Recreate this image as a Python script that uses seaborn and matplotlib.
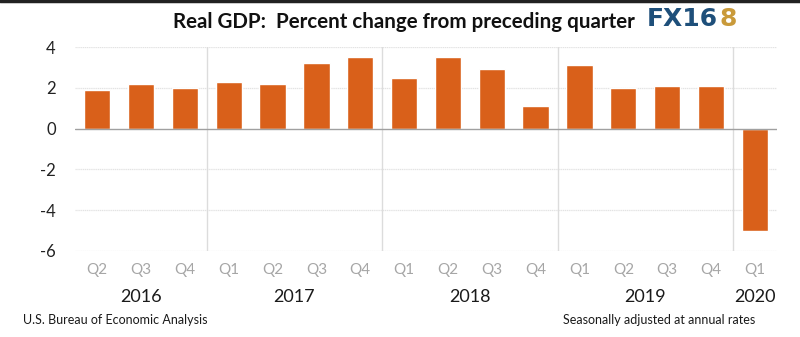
import matplotlib
matplotlib.use("Agg")
import matplotlib.pyplot as plt
import matplotlib.transforms as mtransforms
import seaborn as sns
import pandas as pd

quarters = ["Q2", "Q3", "Q4", "Q1", "Q2", "Q3", "Q4", "Q1", "Q2", "Q3", "Q4",
            "Q1", "Q2", "Q3", "Q4", "Q1"]
years = [2016, 2016, 2016, 2017, 2017, 2017, 2017, 2018, 2018, 2018, 2018,
         2019, 2019, 2019, 2019, 2020]
gdp_change = [1.9, 2.2, 2.0, 2.3, 2.2, 3.2, 3.5, 2.5, 3.5, 2.9, 1.1,
              3.1, 2.0, 2.1, 2.1, -5.0]
year_labels = ["2016", "2017", "2018", "2019", "2020"]
y_ticks = [4, 2, 0, -2, -4, -6]

df = pd.DataFrame({"period": [f"{y}-{q}" for y, q in zip(years, quarters)],
                   "quarter": quarters, "year": years, "value": gdp_change})

sns.set_theme(style="white")
plt.rcParams["font.family"] = ["Lato", "DejaVu Sans"]

fig = plt.figure(figsize=(8, 3.37), dpi=100)
ax = fig.add_axes([0.094, 0.2552, 0.877, 0.6053])

sns.barplot(data=df, x="period", y="value", color="#D9601A", width=0.6,
            saturation=1, ax=ax, zorder=3)

ax.set_ylim(-6, 4)
ax.set_xlim(-0.5, len(df) - 0.5)
ax.set_yticks(y_ticks)
ax.set_yticklabels([str(t) for t in y_ticks], fontsize=12, color="#222222")
ax.set_xticks(range(len(df)))
ax.set_xticklabels(quarters, fontsize=11, color="#a6a6a6")
ax.tick_params(axis="both", length=0, pad=9)
ax.tick_params(axis="y", pad=14)
ax.set_xlabel("")
ax.set_ylabel("")
for s in ax.spines.values():
    s.set_visible(False)

for t in y_ticks:
    if t != 0:
        ax.axhline(t, color="#e3e3e3", lw=0.9, ls=(0, (1, 0.5)), zorder=1)
ax.axhline(0, color="#a0a0a0", lw=1.0, zorder=4)

# year separators and labels
trans = mtransforms.blended_transform_factory(ax.transData, ax.transAxes)
idx = list(range(len(df)))
for yl in year_labels:
    pos = [i for i in idx if str(years[i]) == yl]
    center = (pos[0] + pos[-1]) / 2
    ax.text(center, -0.225, yl, transform=trans, ha="center", va="center",
            fontsize=13, color="#1a1a1a")
    if pos[0] > 0:
        ax.axvline(pos[0] - 0.5, color="#dcdcdc", lw=1.0, zorder=1)

fig.text(0.505, 0.935, "Real GDP:  Percent change from preceding quarter",
         ha="center", va="center", fontsize=14.8, fontweight="bold", color="#111111")

# logo
fig.canvas.draw()
r = fig.canvas.get_renderer()
t1 = fig.text(0.809, 0.945, "FX16", ha="left", va="center", fontsize=18,
              fontweight="heavy", color="#1e4f7a", family=["DejaVu Sans"])
bb = t1.get_window_extent(renderer=r)
x_end = bb.x1 / fig.bbox.width
fig.text(x_end + 0.001, 0.945, "8", ha="left", va="center", fontsize=18,
         fontweight="heavy", color="#c99a3a", family=["DejaVu Sans"])

fig.text(0.029, 0.05, "U.S. Bureau of Economic Analysis", ha="left", va="center",
         fontsize=9, color="#1a1a1a")
fig.text(0.944, 0.05, "Seasonally adjusted at annual rates", ha="right", va="center",
         fontsize=9, color="#1a1a1a")

# top border line
fig.add_artist(plt.Line2D([0, 1], [0.997, 0.997], transform=fig.transFigure,
                          color="#222222", lw=2.5))

fig.savefig("out.png", dpi=100, facecolor="white")
